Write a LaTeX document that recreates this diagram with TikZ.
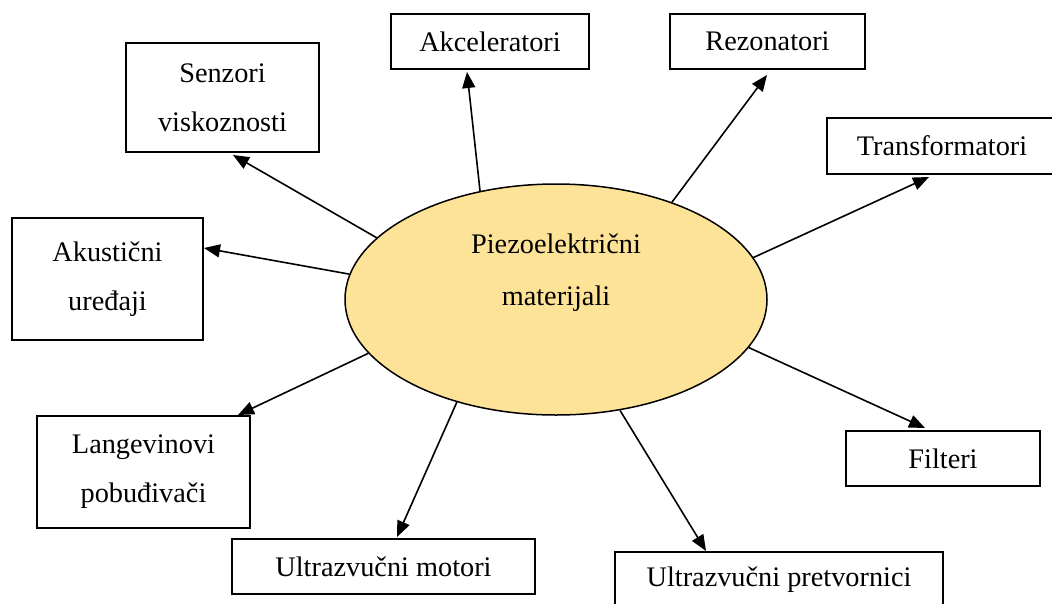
\documentclass[tikz,border=0pt]{standalone}
\usepackage{fontspec}
\setmainfont{Liberation Serif}
\usetikzlibrary{arrows.meta,shapes.geometric}
\definecolor{piezo}{RGB}{253,227,151}

\begin{document}
\begin{tikzpicture}[x=1pt,y=-1pt,
  box/.style={draw, line width=1.4pt, inner sep=0pt, align=center, font=\fontsize{28.3}{49}\selectfont},
  arr/.style={line width=1.6pt, -{Triangle[length=16pt,width=13pt]}}]
\useasboundingbox (0,0) rectangle (1052,603);
\node [ellipse, draw, line width=1.5pt, fill=piezo, minimum width=422pt, minimum height=231pt] (pm) at (556,299.5) {};
\node [align=center, inner sep=0pt, font=\fontsize{28.3}{52}\selectfont] (pmt) at (556,273) {Piezoelektrični\\materijali};
\node [box, minimum width=193pt, minimum height=109pt] (sen) at (222.5,97.5) {Senzori\\viskoznosti};
\node [box, minimum width=198pt, minimum height=55pt] (akc) at (490,41.5) {Akceleratori};
\node [box, minimum width=195pt, minimum height=55pt] (rez) at (767.5,41.5) {Rezonatori};
\node [box, minimum width=230pt, minimum height=56pt] (tra) at (942,146) {Transformatori};
\node [box, minimum width=191pt, minimum height=122pt] (aku) at (107.5,279) {Akustični\\uređaji};
\node [box, minimum width=213pt, minimum height=112pt] (lan) at (143.5,472) {Langevinovi\\pobuđivači};
\node [box, minimum width=303pt, minimum height=55pt] (um) at (383.5,566.5) {Ultrazvučni motori};
\node [box, minimum width=328pt, minimum height=55pt] (up) at (779,579.5) {Ultrazvučni pretvornici};
\node [box, minimum width=194pt, minimum height=55pt] (fil) at (943,458.5) {Filteri};
\coordinate (senT) at (233,155);
\coordinate (akcT) at (467,72);
\coordinate (rezT) at (767,75);
\coordinate (traT) at (929,177);
\coordinate (akuT) at (204,248);
\coordinate (lanT) at (238,415);
\coordinate (umT) at (397,537);
\coordinate (upT) at (706,551);
\coordinate (filT) at (925,428);
\draw [arr] (pm.161) -- (senT);
\draw [arr] (pm.125) -- (akcT);
\draw [arr] (pm.40) -- (rezT);
\draw [arr] (pm.12) -- (traT);
\draw [arr] (pm.173) -- (akuT);
\draw [arr] (pm.196) -- (lanT);
\draw [arr] (pm.226) -- (umT);
\draw [arr] (pm.300) -- (upT);
\draw [arr] (pm.346) -- (filT);
\end{tikzpicture}
\end{document}
